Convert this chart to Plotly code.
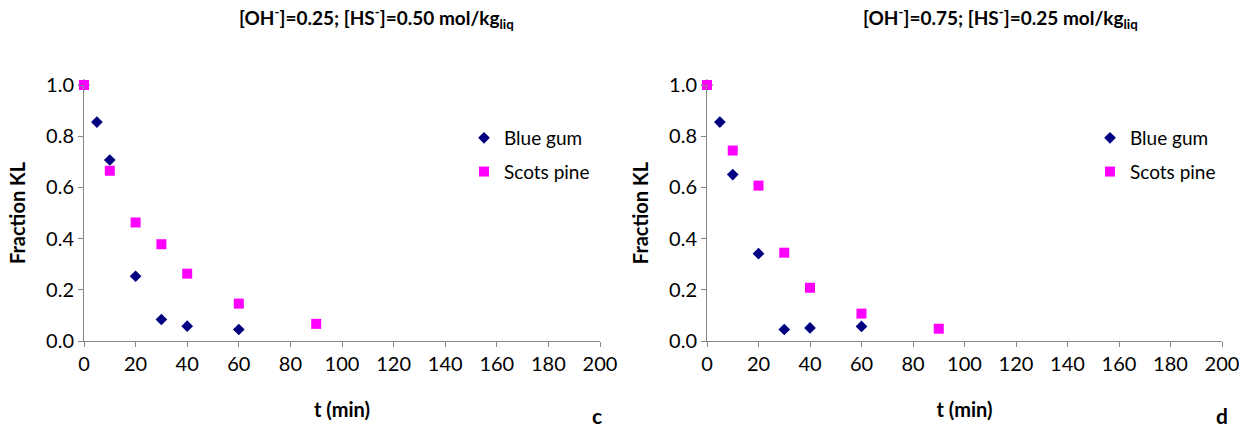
import plotly.graph_objects as go

t_blue = [0, 5, 10, 20, 30, 40, 60]
t_pine = [0, 10, 20, 30, 40, 60, 90]

c_blue = [1.0, 0.855, 0.707, 0.253, 0.084, 0.058, 0.045]
c_pine = [1.0, 0.665, 0.463, 0.378, 0.263, 0.146, 0.067]

d_blue = [1.0, 0.855, 0.650, 0.341, 0.045, 0.051, 0.057]
d_pine = [1.0, 0.744, 0.607, 0.345, 0.208, 0.107, 0.048]

x_ticks = list(range(0, 201, 20))
y_ticks = [0.0, 0.2, 0.4, 0.6, 0.8, 1.0]

W, H = 1244, 430
FONT = "Lato, 'Open Sans', sans-serif"
NAVY = "#000080"
MAG = "#FF00FF"
AX = "#868686"

fig = go.Figure()

def add_panel(fig, tb, vb, tp, vp, xa, ya, legend):
    fig.add_trace(go.Scatter(x=tb, y=vb, mode="markers", name="Blue gum",
                             marker=dict(symbol="diamond", size=9, color=NAVY),
                             xaxis=xa, yaxis=ya, cliponaxis=False,
                             legend=legend, legendgroup=legend + "a"))
    fig.add_trace(go.Scatter(x=tp, y=vp, mode="markers", name="Scots pine",
                             marker=dict(symbol="square", size=10, color=MAG),
                             xaxis=xa, yaxis=ya, cliponaxis=False,
                             legend=legend, legendgroup=legend + "b"))

add_panel(fig, t_blue, c_blue, t_pine, c_pine, "x", "y", "legend")
add_panel(fig, t_blue, d_blue, t_pine, d_pine, "x2", "y2", "legend2")

ydom = [(H - 341) / H, (H - 85) / H]
axis_common = dict(showline=True, linecolor=AX, linewidth=1, ticks="outside",
                   tickcolor=AX, ticklen=5, showgrid=False, zeroline=False,
                   automargin=False,
                   tickfont=dict(family=FONT, size=20, color="#000"))
xt = dict(axis_common, range=[0, 200], tickvals=x_ticks,
          title=dict(text="<b>t (min)</b>", font=dict(family=FONT, size=20, color="#000"), standoff=28))
yt = dict(axis_common, range=[0, 1], tickvals=y_ticks, tickformat=".1f",
          title=dict(text="<b>Fraction KL</b>", font=dict(family=FONT, size=20, color="#000"), standoff=15))

leg_common = dict(font=dict(family=FONT, size=19, color="#000"), bgcolor="rgba(0,0,0,0)",
                  tracegroupgap=6, itemwidth=30, xanchor="left", yanchor="top")

fig.update_layout(
    width=W, height=H,
    margin=dict(l=0, r=0, t=0, b=0, autoexpand=False),
    paper_bgcolor="white", plot_bgcolor="white",
    xaxis=dict(xt, domain=[84 / W, 600 / W], anchor="y"),
    yaxis=dict(yt, domain=ydom, anchor="x"),
    xaxis2=dict(xt, domain=[707 / W, 1222 / W], anchor="y2"),
    yaxis2=dict(yt, domain=ydom, anchor="x2"),
    legend=dict(leg_common, x=464 / W, y=(H - 119) / H),
    legend2=dict(leg_common, x=1090 / W, y=(H - 119) / H),
    annotations=[
        dict(text="<b>[OH<sup>-</sup>]=0.25; [HS<sup>-</sup>]=0.50 mol/kg<sub>liq</sub></b>",
             x=376 / W, y=(H - 18) / H, xref="paper", yref="paper", showarrow=False,
             xanchor="center", yanchor="middle",
             font=dict(family=FONT, size=19, color="#000")),
        dict(text="<b>[OH<sup>-</sup>]=0.75; [HS<sup>-</sup>]=0.25 mol/kg<sub>liq</sub></b>",
             x=1000 / W, y=(H - 18) / H, xref="paper", yref="paper", showarrow=False,
             xanchor="center", yanchor="middle",
             font=dict(family=FONT, size=19, color="#000")),
        dict(text="<b>c</b>", x=597 / W, y=0, xref="paper", yref="paper",
             xanchor="center", yanchor="bottom",
             showarrow=False, font=dict(family=FONT, size=21, color="#000")),
        dict(text="<b>d</b>", x=1222 / W, y=0, xref="paper", yref="paper",
             xanchor="center", yanchor="bottom",
             showarrow=False, font=dict(family=FONT, size=21, color="#000")),
    ],
)

fig.write_html("out.html")
